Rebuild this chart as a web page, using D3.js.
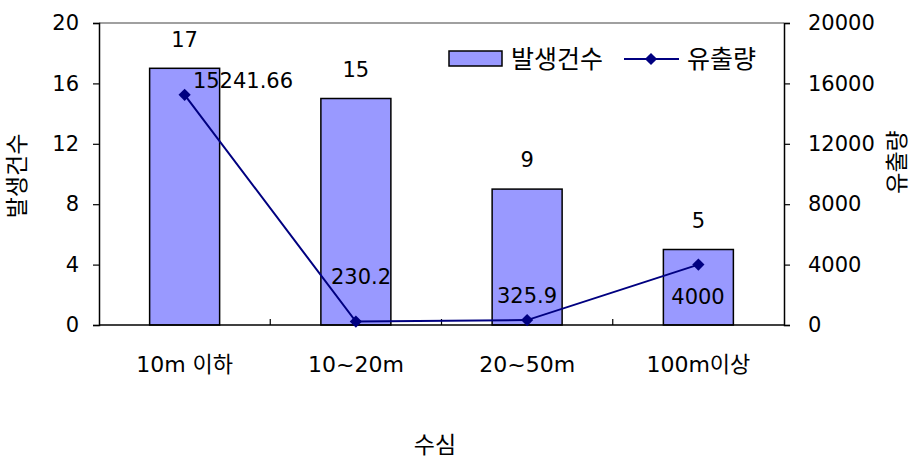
<!DOCTYPE html>
<html lang="ko">
<head>
    <meta charset="utf-8">
    <style>
        body { margin: 0; background: #fff; }
        svg { display: block; }
        text { font-family: "DejaVu Sans", "Noto Sans CJK KR", sans-serif; fill: #000; }
    </style>
</head>
<body>
    <svg width="912" height="462"></svg>
    <script src="https://cdn.jsdelivr.net/npm/d3@7"></script>
    <script>
        // Data
        const categories = ["10m 이하", "10~20m", "20~50m", "100m이상"];
        const counts = [17, 15, 9, 5];
        const outflow = [15241.66, 230.2, 325.9, 4000];
        const outflowLabels = ["15241.66", "230.2", "325.9", "4000"];
        const leftTicks = [0, 4, 8, 12, 16, 20];
        const rightTicks = [0, 4000, 8000, 12000, 16000, 20000];

        const svg = d3.select("svg");
        const fs = 21;

        // Plot area
        const pLeft = 99, pRight = 784, pTop = 23, pBottom = 325;

        const x = d3.scaleBand().domain(categories).range([pLeft, pRight]);
        const yL = d3.scaleLinear().domain([0, 20]).range([pBottom, pTop]);
        const yR = d3.scaleLinear().domain([0, 20000]).range([pBottom, pTop]);
        const barW = 70;
        const cx = (d, i) => x(categories[i]) + x.bandwidth() / 2;

        // frame top
        svg.append("line").attr("x1", pLeft).attr("x2", pRight).attr("y1", pTop).attr("y2", pTop)
            .attr("stroke", "#808080").attr("stroke-width", 1.5);

        // Bars
        svg.append("g").selectAll("rect").data(counts).join("rect")
            .attr("x", (d, i) => cx(d, i) - barW / 2)
            .attr("y", d => yL(d))
            .attr("width", barW)
            .attr("height", d => yL(0) - yL(d))
            .attr("fill", "#9999FF")
            .attr("stroke", "#000").attr("stroke-width", 1.5);

        // Bar labels
        svg.append("g").selectAll("text").data(counts).join("text")
            .attr("x", cx)
            .attr("y", d => yL(d) - 29)
            .attr("dy", "0.35em")
            .attr("text-anchor", "middle")
            .attr("font-size", fs)
            .text(d => d);

        // Axes
        const axL = svg.append("g").attr("transform", `translate(${pLeft},0)`)
            .call(d3.axisLeft(yL).tickValues(leftTicks).tickSize(6).tickPadding(14));
        const axR = svg.append("g").attr("transform", `translate(${pRight},0)`)
            .call(d3.axisRight(yR).tickValues(rightTicks).tickFormat(d3.format("d")).tickSize(6).tickPadding(18));
        const axB = svg.append("g").attr("transform", `translate(0,${pBottom})`)
            .call(d3.axisBottom(x).tickSize(0).tickPadding(39));
        [axL, axR, axB].forEach(a => {
            a.attr("font-family", null).attr("font-size", null);
            a.select(".domain").attr("stroke", "#000").attr("stroke-width", 1.5);
            a.selectAll(".tick line").attr("stroke", "#000").attr("stroke-width", 1.2);
            a.selectAll("text").attr("font-size", fs);
        });
        axB.select(".domain").attr("d", `M${pLeft},0H${pRight}`);
        axB.selectAll("text").attr("dy", "0.35em").attr("font-size", 22);

        // category separator ticks (pointing up)
        svg.append("g").selectAll("line").data(categories.slice(1)).join("line")
            .attr("x1", d => x(d)).attr("x2", d => x(d))
            .attr("y1", pBottom).attr("y2", pBottom - 6)
            .attr("stroke", "#000").attr("stroke-width", 1.2);

        // Line series
        svg.append("path").datum(outflow)
            .attr("fill", "none").attr("stroke", "#000080").attr("stroke-width", 2)
            .attr("d", d3.line().x(cx).y(d => yR(d)));
        svg.append("g").selectAll("path").data(outflow).join("path")
            .attr("transform", (d, i) => `translate(${cx(d, i)},${yR(d)})`)
            .attr("d", d3.symbol(d3.symbolDiamond2, 95))
            .attr("fill", "#000080");

        // Line labels
        const lblPos = [[243, 81], [361, 277], [527, 296], [698, 297]];
        svg.append("g").selectAll("text").data(outflowLabels).join("text")
            .attr("x", (d, i) => lblPos[i][0])
            .attr("y", (d, i) => lblPos[i][1])
            .attr("dy", "0.35em")
            .attr("text-anchor", "middle")
            .attr("font-size", fs)
            .text(d => d);

        // Axis titles
        svg.append("text").attr("transform", "translate(17,176) rotate(-90)")
            .attr("text-anchor", "middle").attr("dy", "0.35em").attr("font-size", 23).text("발생건수");
        svg.append("text").attr("transform", "translate(897,162) rotate(-90)")
            .attr("text-anchor", "middle").attr("dy", "0.35em").attr("font-size", 23).text("유출량");
        svg.append("text").attr("x", 435).attr("y", 445).attr("dy", "0.35em")
            .attr("text-anchor", "middle").attr("font-size", 23).text("수심");

        // Legend
        const lg = svg.append("g");
        lg.append("rect").attr("x", 449).attr("y", 51).attr("width", 53).attr("height", 15)
            .attr("fill", "#9999FF").attr("stroke", "#000").attr("stroke-width", 1.5);
        lg.append("text").attr("x", 511).attr("y", 59).attr("dy", "0.35em")
            .attr("font-size", 25).text("발생건수");
        lg.append("line").attr("x1", 624).attr("x2", 679).attr("y1", 59).attr("y2", 59)
            .attr("stroke", "#000080").attr("stroke-width", 2);
        lg.append("path").attr("transform", "translate(651,59)")
            .attr("d", d3.symbol(d3.symbolDiamond2, 95)).attr("fill", "#000080");
        lg.append("text").attr("x", 687).attr("y", 59).attr("dy", "0.35em")
            .attr("font-size", 25).text("유출량");
    </script>
</body>
</html>
